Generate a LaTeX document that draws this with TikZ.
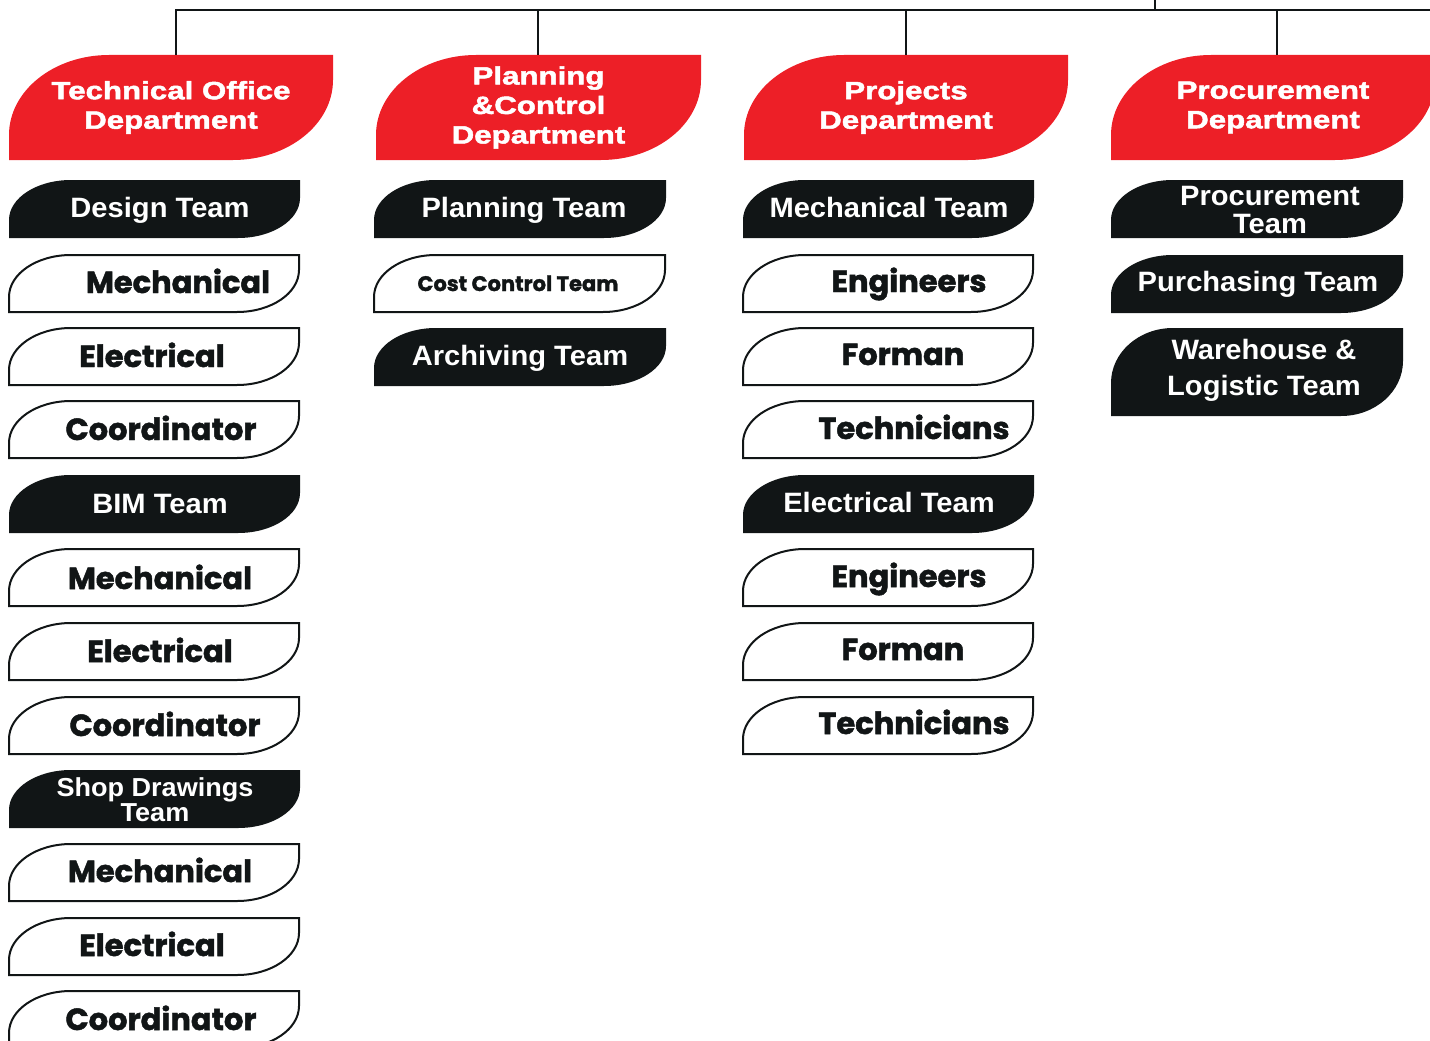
\documentclass[tikz,border=0pt]{standalone}
\usepackage{fontspec}
\newfontfamily\hdfont{Liberation Sans}[FakeStretch=1.25,BoldFeatures={FakeBold=2}]
\newfontfamily\blfont{Liberation Sans}[FakeStretch=1.04]
\newfontfamily\wtfont{Poppins}[BoldFeatures={FakeBold=1.6}]
\definecolor{hdred}{HTML}{ED1F27}
\definecolor{pill}{HTML}{111516}
% #1 style, #2 x1, #3 y1 (top), #4 x2, #5 y2 (bottom), #6 rx, #7 ry
\newcommand\leafshape[7]{%
  \path[#1] (#2,#5) -- (#2,{#3+#7})
    .. controls (#2,{#3+0.4477*#7}) and ({#2+0.4477*#6},#3) .. ({#2+#6},#3)
    -- (#4,#3) -- (#4,{#5-#7})
    .. controls (#4,{#5-0.4477*#7}) and ({#4-0.4477*#6},#5) .. ({#4-#6},#5) -- cycle;}
\tikzset{
  redleaf/.style={fill=hdred},
  blackleaf/.style={fill=pill},
  whiteleaf/.style={fill=white,draw=pill,line width=2pt},
  hd/.style={font=\hdfont\bfseries\fontsize{25}{29.5}\selectfont,text=white,align=center,
    minimum width=324pt,minimum height=105pt,inner sep=0pt},
  bl/.style={font=\blfont\bfseries\fontsize{28}{28}\selectfont,text=white,anchor=base,inner sep=0pt},
  blm/.style={font=\blfont\bfseries\fontsize{28}{28}\selectfont,text=white,align=center,inner sep=0pt},
  wt/.style={font=\wtfont\bfseries\fontsize{30.5}{30.5}\selectfont,text=pill,anchor=base,inner sep=0pt},
  bus/.style={draw=pill,line width=2.5pt}
}
\begin{document}
\begin{tikzpicture}[x=1pt,y=-1pt]
\useasboundingbox (0,0) rectangle (1430,1041);
% headers
\leafshape{redleaf}{9}{55}{333}{160}{100}{80}
\node[hd] (H1) at (171,107.5) {Technical Office\\Department};
\leafshape{redleaf}{376}{55}{701}{160}{100}{80}
\node[hd] (H2) at (538.5,107.5) {Planning\\\&Control\\Department};
\leafshape{redleaf}{744}{55}{1068}{160}{100}{80}
\node[hd] (H3) at (906,107.5) {Projects\\Department};
\leafshape{redleaf}{1111}{55}{1435}{160}{100}{80}
\node[hd] (H4) at (1273,107.5) {Procurement\\Department};
% bus
\coordinate (busL) at (175,10);
\coordinate (busR) at (1430,10);
\coordinate (topT) at (1155,0);
\coordinate (topB) at (1155,10);
\coordinate (b1) at (176,10);
\coordinate (b2) at (538,10);
\coordinate (b3) at (906,10);
\coordinate (b4) at (1277,10);
\draw[bus] (busL) -- (busR);
\draw[bus] (topT) -- (topB);
\draw[bus] (b1) -- (b1 |- H1.north);
\draw[bus] (b2) -- (b2 |- H2.north);
\draw[bus] (b3) -- (b3 |- H3.north);
\draw[bus] (b4) -- (b4 |- H4.north);
% column 1
\leafshape{blackleaf}{9}{180}{300}{238}{62}{40}
\node[bl] (a1) at (160,217) {Design Team};
\leafshape{whiteleaf}{9}{255}{299}{312}{62}{42}
\node[wt] (a2) at (178,293) {Mechanical};
\leafshape{whiteleaf}{9}{328}{299}{385}{62}{42}
\node[wt] (a3) at (152,367) {Electrical};
\leafshape{whiteleaf}{9}{401}{299}{458}{62}{42}
\node[wt] (a4) at (161,440) {Coordinator};
\leafshape{blackleaf}{9}{475}{300}{533}{62}{40}
\node[bl] (a5) at (160,513) {BIM Team};
\leafshape{whiteleaf}{9}{549}{299}{606}{62}{42}
\node[wt] (a6) at (160,589) {Mechanical};
\leafshape{whiteleaf}{9}{623}{299}{680}{62}{42}
\node[wt] (a7) at (160,662) {Electrical};
\leafshape{whiteleaf}{9}{697}{299}{754}{62}{42}
\node[wt] (a8) at (165,736) {Coordinator};
\leafshape{blackleaf}{9}{770}{300}{828}{62}{40}
\node[blm,font=\blfont\bfseries\fontsize{26}{25}\selectfont] (a9) at (155,800) {Shop Drawings\\Team};
\leafshape{whiteleaf}{9}{844}{299}{901}{62}{42}
\node[wt] (a10) at (160,882) {Mechanical};
\leafshape{whiteleaf}{9}{918}{299}{975}{62}{42}
\node[wt] (a11) at (152,956) {Electrical};
\leafshape{whiteleaf}{9}{991}{299}{1048}{62}{42}
\node[wt] (a12) at (161,1030) {Coordinator};
% column 2
\leafshape{blackleaf}{374}{180}{666}{238}{62}{40}
\node[bl] (p1) at (524,217) {Planning Team};
\leafshape{whiteleaf}{374}{255}{665}{312}{62}{42}
\node[wt,font=\wtfont\bfseries\fontsize{21}{21}\selectfont] (p2) at (518,291) {Cost Control Team};
\leafshape{blackleaf}{374}{328}{666}{386}{62}{40}
\node[bl] (p3) at (520,365) {Archiving Team};
% column 3
\leafshape{blackleaf}{743}{180}{1034}{238}{62}{40}
\node[bl] (m1) at (889,217) {Mechanical Team};
\leafshape{whiteleaf}{743}{255}{1033}{312}{62}{42}
\node[wt] (m2) at (909,292) {Engineers};
\leafshape{whiteleaf}{743}{328}{1033}{385}{62}{42}
\node[wt] (m3) at (903,365) {Forman};
\leafshape{whiteleaf}{743}{401}{1033}{458}{62}{42}
\node[wt] (m4) at (914,439) {Technicians};
\leafshape{blackleaf}{743}{475}{1034}{533}{62}{40}
\node[bl] (m5) at (889,512) {Electrical Team};
\leafshape{whiteleaf}{743}{549}{1033}{606}{62}{42}
\node[wt] (m6) at (909,587) {Engineers};
\leafshape{whiteleaf}{743}{623}{1033}{680}{62}{42}
\node[wt] (m7) at (903,660) {Forman};
\leafshape{whiteleaf}{743}{697}{1033}{754}{62}{42}
\node[wt] (m8) at (914,734) {Technicians};
% column 4
\leafshape{blackleaf}{1111}{180}{1403}{238}{62}{40}
\node[blm] (q1) at (1270,210) {Procurement\\Team};
\leafshape{blackleaf}{1111}{255}{1403}{313}{62}{40}
\node[bl] (q2) at (1258,291) {Purchasing Team};
\leafshape{blackleaf}{1111}{328}{1403}{416}{62}{55}
\node[blm,font=\blfont\bfseries\fontsize{28}{36}\selectfont] (q3) at (1264,370) {Warehouse \&\\Logistic Team};
\end{tikzpicture}
\end{document}
